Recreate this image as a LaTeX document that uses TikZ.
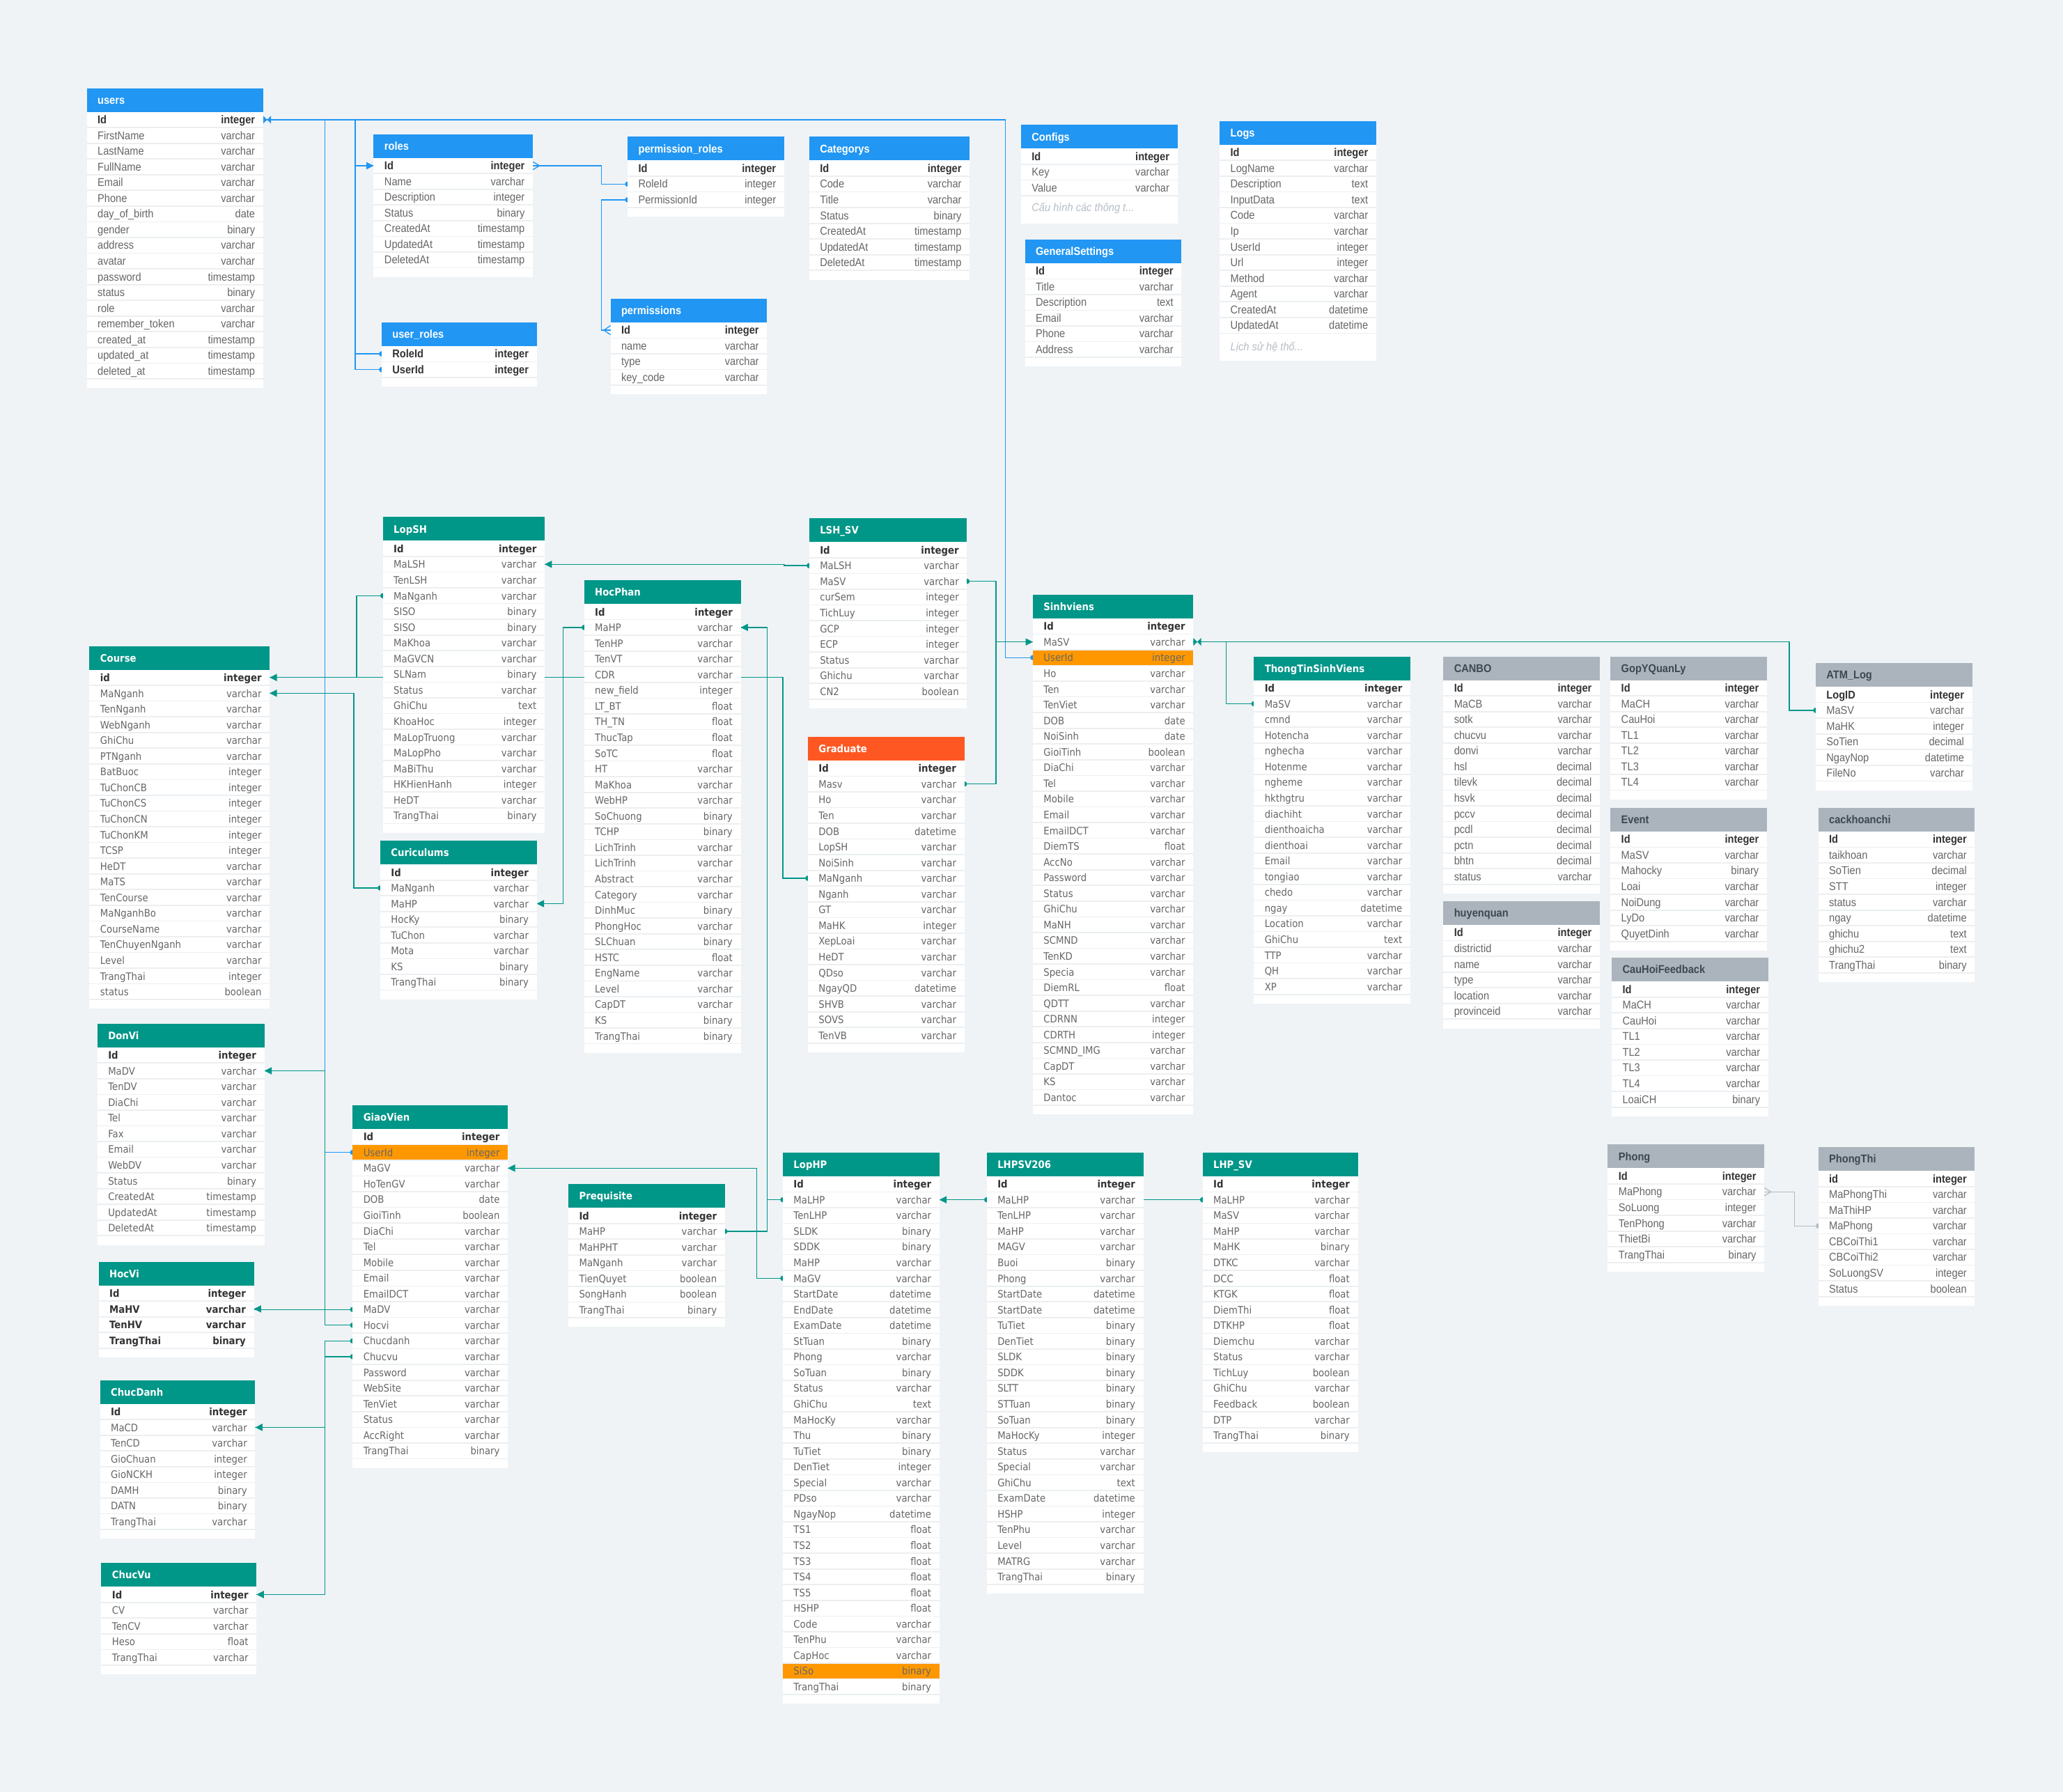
\documentclass[tikz,border=0pt]{standalone}
\usepackage{fontspec}
\newfontfamily\lfont[FakeStretch=0.9]{Liberation Sans}
\newfontfamily\dfont[FakeStretch=0.9]{DejaVu Sans}
\usetikzlibrary{calc}
\definecolor{bgc}{HTML}{EFF3F6}
\definecolor{hblue}{HTML}{2196F3}
\definecolor{hteal}{HTML}{009688}
\definecolor{hgrad}{HTML}{FF5722}
\definecolor{hgray}{HTML}{ABB4BC}
\definecolor{horange}{HTML}{FF9800}
\definecolor{txtn}{HTML}{666666}
\definecolor{txtb}{HTML}{333333}
\definecolor{htgray}{HTML}{3C4850}
\definecolor{sepc}{HTML}{ECEFF2}
\definecolor{notec}{HTML}{B5BDC5}
\definecolor{cgray}{HTML}{B3BCC4}
\pgfdeclarelayer{back}\pgfdeclarelayer{bg}\pgfsetlayers{back,bg,main}
\def\rh{11.94}
\def\footh{7}
\def\tfblue{\lfont\fontsize{8.6}{10}\selectfont}
\def\tfgray{\lfont\fontsize{8.6}{10}\selectfont}
\def\tfteal{\dfont\fontsize{7.8}{9}\selectfont}
\def\tfgrad{\dfont\fontsize{7.8}{9}\selectfont}
\def\htcblue{white}\def\htcteal{white}\def\htcgrad{white}\def\htcgray{htgray}
\tikzset{
  rowbox/.style={rectangle, inner sep=0, outer sep=0, draw=none, minimum height=11.94pt},
  sepline/.style={draw=sepc, line width=0.9pt},
  cb/.style={draw=hblue, line width=0.7pt},
  ct/.style={draw=hteal, line width=0.7pt},
  cg/.style={draw=cgray, line width=0.7pt},
  notetext/.style={inner sep=0, text=notec, font=\lfont\itshape\fontsize{8.6}{10}\selectfont}
}
\newcommand\ertab[7]{%
  \def\tf{\csname tf#5\endcsname}%
  \edef\htc{\csname htc#5\endcsname}%
  \fill[h#5] (#2,#3) rectangle ++(#4,18);
  \node[anchor=base west, inner sep=0, font=\tf\bfseries, text=\htc] (#1-h) at (#2+8,#3+12) {#6};
  \foreach \na/\ty/\fl [count=\i] in {#7}{%
    \def\rowfill{white}\def\rowfont{}\def\rowcol{txtn}%
    \if b\fl \def\rowfont{\bfseries}\def\rowcol{txtb}\fi
    \if h\fl \def\rowfill{horange}\fi
    \node[rowbox, fill=\rowfill, minimum width=#4pt, anchor=north west] (#1-\i) at (#2,{#3+18+(\i-1)*\rh}) {};
    \ifnum\i>1 \draw[sepline] (#1-\i.north west) -- (#1-\i.north east);\fi
    \node[anchor=base west, inner sep=0, font=\tf\rowfont, text=\rowcol] (#1-\i-n) at ([xshift=8pt,yshift=-3pt]#1-\i.west) {\na};
    \node[anchor=base east, inner sep=0, font=\tf\rowfont, text=\rowcol] (#1-\i-t) at ([xshift=-6pt,yshift=-3pt]#1-\i.east) {\ty};
    \xdef\lastrow{\i}%
  }%
  \fill[white] (#2,{#3+18+\lastrow*\rh}) rectangle ++(#4,\footh);
  \draw[sepline] (#2,{#3+18+\lastrow*\rh}) -- ++(#4,0);
}
\newcommand\hvh[4]{\draw[#1] (#2) -- (#2 -| #3) -- (#3 |- #4) -- (#4);}
\newcommand\mkarrE[2]{\fill[#1] (#2) -- ($(#2)+(5.5,-2.8)$) -- ($(#2)+(5.5,2.8)$) -- cycle;}
\newcommand\mkarrW[2]{\fill[#1] (#2) -- ($(#2)+(-5.5,-2.8)$) -- ($(#2)+(-5.5,2.8)$) -- cycle;}
\newcommand\mkdot[2]{\fill[#1] (#2) circle[radius=2pt];}
\newcommand\mkbow[2]{\fill[#1] ($(#2)+(0,-3)$) -- ++(6,6) -- ++(0,-6) -- ++(-6,6) -- cycle;}
\newcommand\mkopenE[2]{\draw[#1, line width=0.7pt] ($(#2)+(0,-3)$) -- ++(5,3) -- ++(-5,3);}
\newcommand\mkcrowW[2]{\draw[#1, line width=0.7pt] ($(#2)+(0,-3.5)$) -- ++(-5,3.5) -- ++(5,3.5);}
\begin{document}
\begin{tikzpicture}[x=1pt,y=-1pt]
\begin{pgfonlayer}{back}
\fill[bgc] (0,0) rectangle (1568,1362);
\end{pgfonlayer}
\useasboundingbox (0,0) rectangle (1568,1362);

% ---------- blue tables ----------
\ertab{users}{66}{67}{134}{blue}{users}{Id/integer/b, FirstName/varchar/n, LastName/varchar/n, FullName/varchar/n, Email/varchar/n, Phone/varchar/n, day\_of\_birth/date/n, gender/binary/n, address/varchar/n, avatar/varchar/n, password/timestamp/n, status/binary/n, role/varchar/n, remember\_token/varchar/n, created\_at/timestamp/n, updated\_at/timestamp/n, deleted\_at/timestamp/n}
\ertab{roles}{284}{102}{121}{blue}{roles}{Id/integer/b, Name/varchar/n, Description/integer/n, Status/binary/n, CreatedAt/timestamp/n, UpdatedAt/timestamp/n, DeletedAt/timestamp/n}
\ertab{uroles}{290}{245}{118}{blue}{user\_roles}{RoleId/integer/b, UserId/integer/b}
\ertab{proles}{477}{104}{119}{blue}{permission\_roles}{Id/integer/b, RoleId/integer/n, PermissionId/integer/n}
\ertab{perms}{464}{227}{119}{blue}{permissions}{Id/integer/b, name/varchar/n, type/varchar/n, key\_code/varchar/n}
\ertab{cats}{615}{104}{122}{blue}{Categorys}{Id/integer/b, Code/varchar/n, Title/varchar/n, Status/binary/n, CreatedAt/timestamp/n, UpdatedAt/timestamp/n, DeletedAt/timestamp/n}
\def\footh{21}
\ertab{configs}{776}{95}{119}{blue}{Configs}{Id/integer/b, Key/varchar/n, Value/varchar/n}
\ertab{logs}{927}{92}{119}{blue}{Logs}{Id/integer/b, LogName/varchar/n, Description/text/n, InputData/text/n, Code/varchar/n, Ip/varchar/n, UserId/integer/n, Url/integer/n, Method/varchar/n, Agent/varchar/n, CreatedAt/datetime/n, UpdatedAt/datetime/n}
\def\footh{7}
\node[notetext, anchor=base west] (configs-note) at ([xshift=8pt,yshift=-12pt]configs-3.south west) {Cấu hình các thông t...};
\node[notetext, anchor=base west] (logs-note) at ([xshift=8pt,yshift=-13pt]logs-12.south west) {Lịch sử hệ thố...};
\ertab{gset}{779}{182}{119}{blue}{GeneralSettings}{Id/integer/b, Title/varchar/n, Description/text/n, Email/varchar/n, Phone/varchar/n, Address/varchar/n}

% ---------- teal tables ----------
\ertab{lopsh}{291}{393}{123}{teal}{LopSH}{Id/integer/b, MaLSH/varchar/n, TenLSH/varchar/n, MaNganh/varchar/n, SISO/binary/n, SISO/binary/n, MaKhoa/varchar/n, MaGVCN/varchar/n, SLNam/binary/n, Status/varchar/n, GhiChu/text/n, KhoaHoc/integer/n, MaLopTruong/varchar/n, MaLopPho/varchar/n, MaBiThu/varchar/n, HKHienHanh/integer/n, HeDT/varchar/n, TrangThai/binary/n}
\ertab{curic}{289}{639}{119}{teal}{Curiculums}{Id/integer/b, MaNganh/varchar/n, MaHP/varchar/n, HocKy/binary/n, TuChon/varchar/n, Mota/varchar/n, KS/binary/n, TrangThai/binary/n}
\ertab{course}{68}{491}{137}{teal}{Course}{id/integer/b, MaNganh/varchar/n, TenNganh/varchar/n, WebNganh/varchar/n, GhiChu/varchar/n, PTNganh/varchar/n, BatBuoc/integer/n, TuChonCB/integer/n, TuChonCS/integer/n, TuChonCN/integer/n, TuChonKM/integer/n, TCSP/integer/n, HeDT/varchar/n, MaTS/varchar/n, TenCourse/varchar/n, MaNganhBo/varchar/n, CourseName/varchar/n, TenChuyenNganh/varchar/n, Level/varchar/n, TrangThai/integer/n, status/boolean/n}
\ertab{hocphan}{444}{441}{119}{teal}{HocPhan}{Id/integer/b, MaHP/varchar/n, TenHP/varchar/n, TenVT/varchar/n, CDR/varchar/n, new\_field/integer/n, LT\_BT/float/n, TH\_TN/float/n, ThucTap/float/n, SoTC/float/n, HT/varchar/n, MaKhoa/varchar/n, WebHP/varchar/n, SoChuong/binary/n, TCHP/binary/n, LichTrinh/varchar/n, LichTrinh/varchar/n, Abstract/varchar/n, Category/varchar/n, DinhMuc/binary/n, PhongHoc/varchar/n, SLChuan/binary/n, HSTC/float/n, EngName/varchar/n, Level/varchar/n, CapDT/varchar/n, KS/binary/n, TrangThai/binary/n}
\ertab{lshsv}{615}{394}{120}{teal}{LSH\_SV}{Id/integer/b, MaLSH/varchar/n, MaSV/varchar/n, curSem/integer/n, TichLuy/integer/n, GCP/integer/n, ECP/integer/n, Status/varchar/n, Ghichu/varchar/n, CN2/boolean/n}
\ertab{grad}{614}{560}{119}{grad}{Graduate}{Id/integer/b, Masv/varchar/n, Ho/varchar/n, Ten/varchar/n, DOB/datetime/n, LopSH/varchar/n, NoiSinh/varchar/n, MaNganh/varchar/n, Nganh/varchar/n, GT/varchar/n, MaHK/integer/n, XepLoai/varchar/n, HeDT/varchar/n, QDso/varchar/n, NgayQD/datetime/n, SHVB/varchar/n, SOVS/varchar/n, TenVB/varchar/n}
\ertab{sinh}{785}{452}{122}{teal}{Sinhviens}{Id/integer/b, MaSV/varchar/n, UserId/integer/h, Ho/varchar/n, Ten/varchar/n, TenViet/varchar/n, DOB/date/n, NoiSinh/date/n, GioiTinh/boolean/n, DiaChi/varchar/n, Tel/varchar/n, Mobile/varchar/n, Email/varchar/n, EmailDCT/varchar/n, DiemTS/float/n, AccNo/varchar/n, Password/varchar/n, Status/varchar/n, GhiChu/varchar/n, MaNH/varchar/n, SCMND/varchar/n, TenKD/varchar/n, Specia/varchar/n, DiemRL/float/n, QDTT/varchar/n, CDRNN/integer/n, CDRTH/integer/n, SCMND\_IMG/varchar/n, CapDT/varchar/n, KS/varchar/n, Dantoc/varchar/n}
\ertab{ttsv}{953}{499}{119}{teal}{ThongTinSinhViens}{Id/integer/b, MaSV/varchar/n, cmnd/varchar/n, Hotencha/varchar/n, nghecha/varchar/n, Hotenme/varchar/n, ngheme/varchar/n, hkthgtru/varchar/n, diachiht/varchar/n, dienthoaicha/varchar/n, dienthoai/varchar/n, Email/varchar/n, tongiao/varchar/n, chedo/varchar/n, ngay/datetime/n, Location/varchar/n, GhiChu/text/n, TTP/varchar/n, QH/varchar/n, XP/varchar/n}
\ertab{donvi}{74}{778}{127}{teal}{DonVi}{Id/integer/b, MaDV/varchar/n, TenDV/varchar/n, DiaChi/varchar/n, Tel/varchar/n, Fax/varchar/n, Email/varchar/n, WebDV/varchar/n, Status/binary/n, CreatedAt/timestamp/n, UpdatedAt/timestamp/n, DeletedAt/timestamp/n}
\ertab{hocvi}{75}{959}{118}{teal}{HocVi}{Id/integer/b, MaHV/varchar/b, TenHV/varchar/b, TrangThai/binary/b}
\ertab{chucdanh}{76}{1049}{118}{teal}{ChucDanh}{Id/integer/b, MaCD/varchar/n, TenCD/varchar/n, GioChuan/integer/n, GioNCKH/integer/n, DAMH/binary/n, DATN/binary/n, TrangThai/varchar/n}
\ertab{chucvu}{77}{1188}{118}{teal}{ChucVu}{Id/integer/b, CV/varchar/n, TenCV/varchar/n, Heso/float/n, TrangThai/varchar/n}
\ertab{gv}{268}{840}{118}{teal}{GiaoVien}{Id/integer/b, UserId/integer/h, MaGV/varchar/n, HoTenGV/varchar/n, DOB/date/n, GioiTinh/boolean/n, DiaChi/varchar/n, Tel/varchar/n, Mobile/varchar/n, Email/varchar/n, EmailDCT/varchar/n, MaDV/varchar/n, Hocvi/varchar/n, Chucdanh/varchar/n, Chucvu/varchar/n, Password/varchar/n, WebSite/varchar/n, TenViet/varchar/n, Status/varchar/n, AccRight/varchar/n, TrangThai/binary/n}
\ertab{preq}{432}{900}{119}{teal}{Prequisite}{Id/integer/b, MaHP/varchar/n, MaHPHT/varchar/n, MaNganh/varchar/n, TienQuyet/boolean/n, SongHanh/boolean/n, TrangThai/binary/n}
\ertab{lophp}{595}{876}{119}{teal}{LopHP}{Id/integer/b, MaLHP/varchar/n, TenLHP/varchar/n, SLDK/binary/n, SDDK/binary/n, MaHP/varchar/n, MaGV/varchar/n, StartDate/datetime/n, EndDate/datetime/n, ExamDate/datetime/n, StTuan/binary/n, Phong/varchar/n, SoTuan/binary/n, Status/varchar/n, GhiChu/text/n, MaHocKy/varchar/n, Thu/binary/n, TuTiet/binary/n, DenTiet/integer/n, Special/varchar/n, PDso/varchar/n, NgayNop/datetime/n, TS1/float/n, TS2/float/n, TS3/float/n, TS4/float/n, TS5/float/n, HSHP/float/n, Code/varchar/n, TenPhu/varchar/n, CapHoc/varchar/n, SiSo/binary/h, TrangThai/binary/n}
\ertab{lhp206}{750}{876}{119}{teal}{LHPSV206}{Id/integer/b, MaLHP/varchar/n, TenLHP/varchar/n, MaHP/varchar/n, MAGV/varchar/n, Buoi/binary/n, Phong/varchar/n, StartDate/datetime/n, StartDate/datetime/n, TuTiet/binary/n, DenTiet/binary/n, SLDK/binary/n, SDDK/binary/n, SLTT/binary/n, STTuan/binary/n, SoTuan/binary/n, MaHocKy/integer/n, Status/varchar/n, Special/varchar/n, GhiChu/text/n, ExamDate/datetime/n, HSHP/integer/n, TenPhu/varchar/n, Level/varchar/n, MATRG/varchar/n, TrangThai/binary/n}
\ertab{lhpsv}{914}{876}{118}{teal}{LHP\_SV}{Id/integer/b, MaLHP/varchar/n, MaSV/varchar/n, MaHP/varchar/n, MaHK/binary/n, DTKC/varchar/n, DCC/float/n, KTGK/float/n, DiemThi/float/n, DTKHP/float/n, Diemchu/varchar/n, Status/varchar/n, TichLuy/boolean/n, GhiChu/varchar/n, Feedback/boolean/n, DTP/varchar/n, TrangThai/binary/n}

% ---------- gray tables ----------
\ertab{canbo}{1097}{499}{119}{gray}{CANBO}{Id/integer/b, MaCB/varchar/n, sotk/varchar/n, chucvu/varchar/n, donvi/varchar/n, hsl/decimal/n, tilevk/decimal/n, hsvk/decimal/n, pccv/decimal/n, pcdl/decimal/n, pctn/decimal/n, bhtn/decimal/n, status/varchar/n}
\ertab{huyen}{1097}{685}{119}{gray}{huyenquan}{Id/integer/b, districtid/varchar/n, name/varchar/n, type/varchar/n, location/varchar/n, provinceid/varchar/n}
\ertab{gopy}{1224}{499}{119}{gray}{GopYQuanLy}{Id/integer/b, MaCH/varchar/n, CauHoi/varchar/n, TL1/varchar/n, TL2/varchar/n, TL3/varchar/n, TL4/varchar/n}
\ertab{event}{1224}{614}{119}{gray}{Event}{Id/integer/b, MaSV/varchar/n, Mahocky/binary/n, Loai/varchar/n, NoiDung/varchar/n, LyDo/varchar/n, QuyetDinh/varchar/n}
\ertab{chfb}{1225}{728}{119}{gray}{CauHoiFeedback}{Id/integer/b, MaCH/varchar/n, CauHoi/varchar/n, TL1/varchar/n, TL2/varchar/n, TL3/varchar/n, TL4/varchar/n, LoaiCH/binary/n}
\ertab{atm}{1380}{504}{119}{gray}{ATM\_Log}{LogID/integer/b, MaSV/varchar/n, MaHK/integer/n, SoTien/decimal/n, NgayNop/datetime/n, FileNo/varchar/n}
\ertab{ckc}{1382}{614}{119}{gray}{cackhoanchi}{Id/integer/b, taikhoan/varchar/n, SoTien/decimal/n, STT/integer/n, status/varchar/n, ngay/datetime/n, ghichu/text/n, ghichu2/text/n, TrangThai/binary/n}
\ertab{phong}{1222}{870}{119}{gray}{Phong}{Id/integer/b, MaPhong/varchar/n, SoLuong/integer/n, TenPhong/varchar/n, ThietBi/varchar/n, TrangThai/binary/n}
\ertab{phongthi}{1382}{872}{119}{gray}{PhongThi}{id/integer/b, MaPhongThi/varchar/n, MaThiHP/varchar/n, MaPhong/varchar/n, CBCoiThi1/varchar/n, CBCoiThi2/varchar/n, SoLuongSV/integer/n, Status/boolean/n}

% ---------- connectors ----------
\begin{pgfonlayer}{bg}
\coordinate (kUS) at (764,0);
\coordinate (kGV) at (247,0);
\coordinate (kUR) at (270,0);
\coordinate (kRP) at (457,0);
\coordinate (kSV) at (757,0);
\coordinate (kAT) at (1360,0);
\coordinate (kTT) at (932,0);
\coordinate (kLS) at (596,0);
\coordinate (kCI) at (271,0);
\coordinate (kGR) at (595,0);
\coordinate (kCN) at (269,0);
\coordinate (kHP) at (428,0);
\coordinate (kPQ) at (583,0);
\coordinate (kMG) at (575,0);
\coordinate (kDV) at (247,0);
\coordinate (kPH) at (1364,0);
% blue
\hvh{cb}{users-1.east}{kUS}{sinh-3.west}
\hvh{cb}{users-1.east}{kGV}{gv-2.west}
\hvh{cb}{users-1.east}{kUR}{roles-1.west}
\hvh{cb}{users-1.east}{kUR}{uroles-1.west}
\hvh{cb}{users-1.east}{kUR}{uroles-2.west}
\hvh{cb}{roles-1.east}{kRP}{proles-2.west}
\hvh{cb}{proles-3.west}{kRP}{perms-1.west}
% teal
\hvh{ct}{sinh-2.east}{kAT}{atm-2.west}
\hvh{ct}{sinh-2.east}{kTT}{ttsv-2.west}
\hvh{ct}{lshsv-2.west}{kLS}{lopsh-2.east}
\hvh{ct}{lopsh-4.west}{kCI}{course-1.east}
\hvh{ct}{grad-8.west}{kGR}{course-1.east}
\hvh{ct}{curic-2.west}{kCN}{course-2.east}
\hvh{ct}{hocphan-2.west}{kHP}{curic-3.east}
\hvh{ct}{preq-2.east}{kPQ}{hocphan-2.east}
\hvh{ct}{lophp-2.west}{kPQ}{hocphan-2.east}
\hvh{ct}{lophp-7.west}{kMG}{gv-3.east}
\draw[ct] (lhp206-2.west) -- (lophp-2.east);
\draw[ct] (lhp206-2.east) -- (lhpsv-2.west);
\hvh{ct}{gv-13.west}{kDV}{donvi-2.east}
\draw[ct] (gv-12.west) -- (gv-12.west -| hocvi-2.east);
\hvh{ct}{gv-14.west}{kDV}{chucdanh-2.east}
\hvh{ct}{gv-15.west}{kDV}{chucvu-1.east}
\hvh{ct}{lshsv-3.east}{kSV}{sinh-2.west}
\hvh{ct}{grad-2.east}{kSV}{sinh-2.west}
% gray
\hvh{cg}{phong-2.east}{kPH}{phongthi-4.west}
% markers
\mkbow{hblue}{users-1.east}
\mkarrW{hblue}{roles-1.west}
\mkdot{hblue}{uroles-1.west}
\mkdot{hblue}{uroles-2.west}
\mkopenE{hblue}{roles-1.east}
\mkdot{hblue}{proles-2.west}
\mkdot{hblue}{proles-3.west}
\mkcrowW{hblue}{perms-1.west}
\mkdot{hblue}{gv-2.west}
\mkdot{hblue}{sinh-3.west}
\mkbow{hteal}{sinh-2.east}
\mkdot{hteal}{atm-2.west}
\mkdot{hteal}{ttsv-2.west}
\mkdot{hteal}{lshsv-2.west}
\mkarrE{hteal}{lopsh-2.east}
\mkdot{hteal}{lopsh-4.west}
\mkarrE{hteal}{course-1.east}
\mkdot{hteal}{grad-8.west}
\mkdot{hteal}{curic-2.west}
\mkarrE{hteal}{course-2.east}
\mkdot{hteal}{hocphan-2.west}
\mkarrE{hteal}{curic-3.east}
\mkdot{hteal}{preq-2.east}
\mkdot{hteal}{lophp-2.west}
\mkarrE{hteal}{hocphan-2.east}
\mkdot{hteal}{lophp-7.west}
\mkarrE{hteal}{gv-3.east}
\mkdot{hteal}{lhp206-2.west}
\mkarrE{hteal}{lophp-2.east}
\mkdot{hteal}{lhpsv-2.west}
\mkdot{hteal}{gv-13.west}
\mkarrE{hteal}{donvi-2.east}
\mkdot{hteal}{gv-12.west}
\mkarrE{hteal}{hocvi-2.east}
\mkdot{hteal}{gv-14.west}
\mkarrE{hteal}{chucdanh-2.east}
\mkdot{hteal}{gv-15.west}
\mkarrE{hteal}{chucvu-1.east}
\mkdot{hteal}{lshsv-3.east}
\mkdot{hteal}{grad-2.east}
\mkarrW{hteal}{sinh-2.west}
\mkopenE{cgray}{phong-2.east}
\mkdot{cgray}{phongthi-4.west}
\end{pgfonlayer}
\end{tikzpicture}
\end{document}
